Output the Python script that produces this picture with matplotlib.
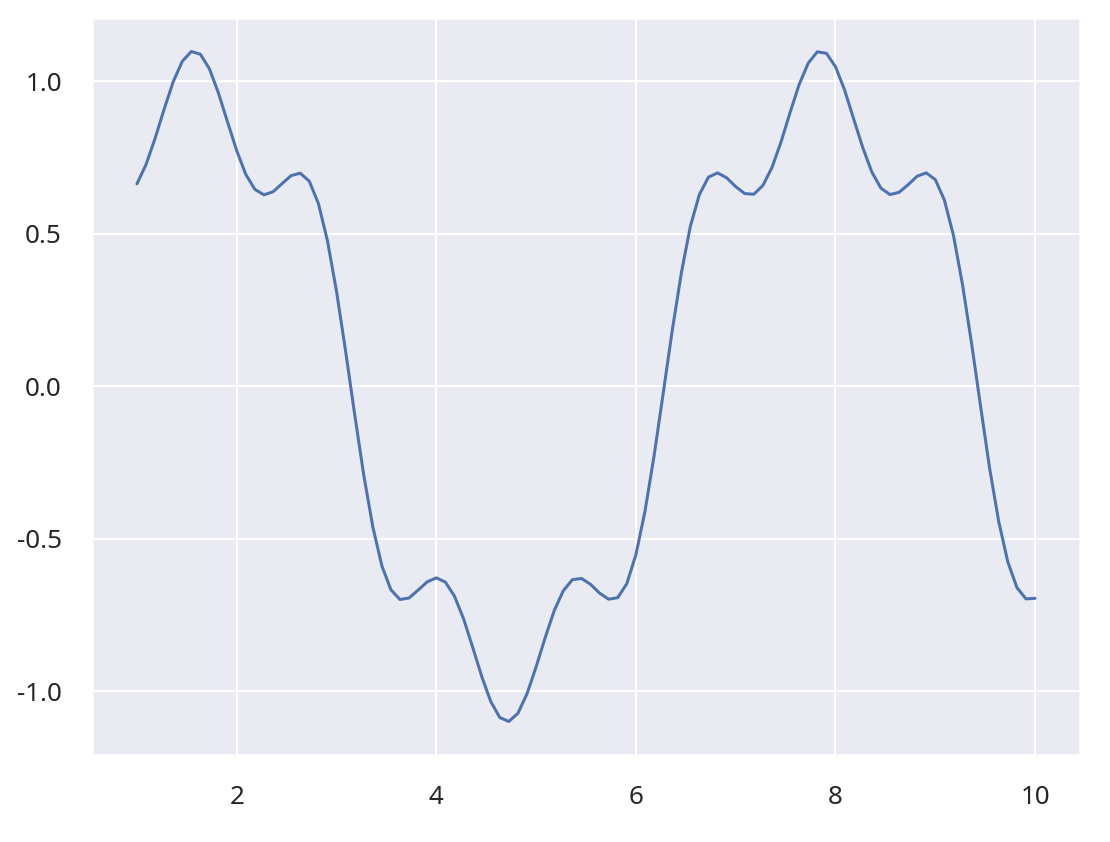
import matplotlib
matplotlib.use("Agg")
import matplotlib.pyplot as plt
import seaborn as sns

# x positions and curve values
x_vals = [
    1.000, 1.091, 1.182, 1.273, 1.364, 1.455, 1.545, 1.636, 1.727, 1.818, 1.909,
    2.000, 2.091, 2.182, 2.273, 2.364, 2.455, 2.545, 2.636, 2.727, 2.818, 2.909,
    3.000, 3.091, 3.182, 3.273, 3.364, 3.455, 3.545, 3.636, 3.727, 3.818, 3.909,
    4.000, 4.091, 4.182, 4.273, 4.364, 4.455, 4.545, 4.636, 4.727, 4.818, 4.909,
    5.000, 5.091, 5.182, 5.273, 5.364, 5.455, 5.545, 5.636, 5.727, 5.818, 5.909,
    6.000, 6.091, 6.182, 6.273, 6.364, 6.455, 6.545, 6.636, 6.727, 6.818, 6.909,
    7.000, 7.091, 7.182, 7.273, 7.364, 7.455, 7.545, 7.636, 7.727, 7.818, 7.909,
    8.000, 8.091, 8.182, 8.273, 8.364, 8.455, 8.545, 8.636, 8.727, 8.818, 8.909,
    9.000, 9.091, 9.182, 9.273, 9.364, 9.455, 9.545, 9.636, 9.727, 9.818, 9.909,
    10.000,
]
y_vals = [
    0.664, 0.727, 0.813, 0.909, 0.999, 1.066, 1.098, 1.089, 1.041, 0.961, 0.866,
    0.773, 0.695, 0.646, 0.628, 0.638, 0.665, 0.691, 0.699, 0.673, 0.600, 0.478,
    0.312, 0.116, -0.092, -0.291, -0.461, -0.589, -0.667, -0.699, -0.694, -0.668, -0.641,
    -0.628, -0.642, -0.688, -0.762, -0.855, -0.951, -1.033, -1.086, -1.099, -1.072, -1.008,
    -0.920, -0.824, -0.735, -0.670, -0.634, -0.630, -0.649, -0.678, -0.698, -0.693, -0.647,
    -0.552, -0.410, -0.228, -0.024, 0.183, 0.371, 0.524, 0.629, 0.686, 0.700, 0.684,
    0.655, 0.632, 0.630, 0.659, 0.718, 0.802, 0.898, 0.990, 1.060, 1.097, 1.092,
    1.048, 0.972, 0.877, 0.783, 0.703, 0.650, 0.629, 0.636, 0.661, 0.689, 0.700,
    0.678, 0.611, 0.495, 0.333, 0.140, -0.068, -0.270, -0.444, -0.576, -0.660, -0.697,
    -0.695,
]

sns.set_theme()
plt.rcParams["font.family"] = ["Noto Sans", "DejaVu Sans"]
plt.rcParams["axes.unicode_minus"] = False

fig = plt.figure(figsize=(1110 / 144, 842 / 144), dpi=144)
ax = fig.add_axes([92 / 1110, 1 - 755 / 842, (1080 - 92) / 1110, (755 - 18) / 842])
ax.plot(x_vals, y_vals)
ax.set_yticks([-1.0, -0.5, 0.0, 0.5, 1.0])
ax.tick_params(labelsize=13, pad=9)

fig.savefig("out.png", dpi=144)
